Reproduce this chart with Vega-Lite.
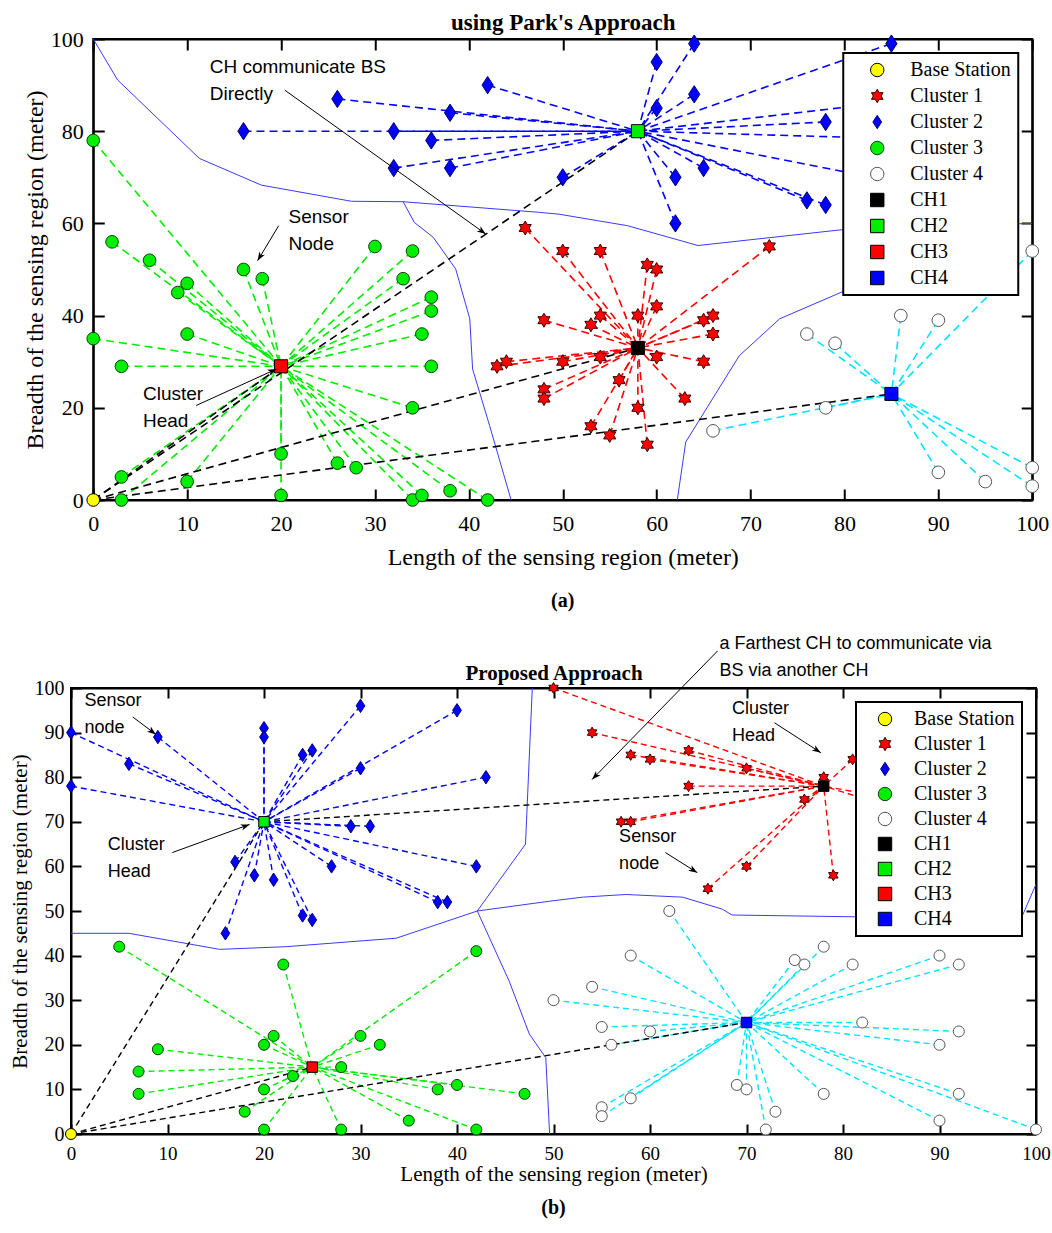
{
"$schema":"https://vega.github.io/schema/vega-lite/v6.json",
"padding":{"left":8,"top":10,"right":10,"bottom":10},
"background":"white",
"spacing":22,
"center":true,
"config":{
 "view":{"stroke":"#000","strokeWidth":2},
 "axis":{"grid":false,"domainColor":"#000","tickColor":"#000","labelColor":"#000","titleColor":"#000","labelFont":"Liberation Serif","titleFont":"Liberation Serif","titleFontWeight":"normal","labelFlush":false,"labelOverlap":false,"domainWidth":2,"tickWidth":2},
 "legend":{"orient":"top-right","offset":14,"labelFont":"Liberation Serif","labelFontSize":20,"labelColor":"#000","symbolSize":180,"symbolStrokeWidth":1,"padding":7,"symbolOffset":17,"labelOffset":23,"rowPadding":6,"strokeColor":"#000","strokeWidth":2,"fillColor":"#fff"},
 "title":{"font":"Liberation Serif","color":"#000"}
},
"resolve":{"scale":{"fill":"independent","stroke":"independent","shape":"independent","x":"independent","y":"independent"},"legend":{"fill":"independent","stroke":"independent","shape":"independent"}},
"datasets":{
 "pa":[
  {"s":"Base Station","x":0,"y":0},
  {"s":"CH1","x":58,"y":33},{"s":"CH2","x":58,"y":80},{"s":"CH3","x":20,"y":29},{"s":"CH4","x":85,"y":23},
  {"s":"Cluster 1","x":59,"y":51,"ch":"CH1"},{"s":"Cluster 1","x":60,"y":50,"ch":"CH1"},{"s":"Cluster 1","x":60,"y":42,"ch":"CH1"},{"s":"Cluster 1","x":58,"y":40,"ch":"CH1"},{"s":"Cluster 1","x":54,"y":40,"ch":"CH1"},{"s":"Cluster 1","x":53,"y":38,"ch":"CH1"},{"s":"Cluster 1","x":65,"y":39,"ch":"CH1"},{"s":"Cluster 1","x":66,"y":40,"ch":"CH1"},{"s":"Cluster 1","x":66,"y":36,"ch":"CH1"},{"s":"Cluster 1","x":60,"y":31,"ch":"CH1"},{"s":"Cluster 1","x":65,"y":30,"ch":"CH1"},{"s":"Cluster 1","x":54,"y":31,"ch":"CH1"},{"s":"Cluster 1","x":50,"y":30,"ch":"CH1"},{"s":"Cluster 1","x":56,"y":26,"ch":"CH1"},{"s":"Cluster 1","x":63,"y":22,"ch":"CH1"},{"s":"Cluster 1","x":58,"y":20,"ch":"CH1"},{"s":"Cluster 1","x":53,"y":16,"ch":"CH1"},{"s":"Cluster 1","x":55,"y":14,"ch":"CH1"},{"s":"Cluster 1","x":59,"y":12,"ch":"CH1"},{"s":"Cluster 1","x":43,"y":29,"ch":"CH1"},{"s":"Cluster 1","x":44,"y":30,"ch":"CH1"},{"s":"Cluster 1","x":48,"y":39,"ch":"CH1"},{"s":"Cluster 1","x":48,"y":24,"ch":"CH1"},{"s":"Cluster 1","x":48,"y":22,"ch":"CH1"},{"s":"Cluster 1","x":50,"y":54,"ch":"CH1"},{"s":"Cluster 1","x":54,"y":54,"ch":"CH1"},{"s":"Cluster 1","x":72,"y":55,"ch":"CH1"},{"s":"Cluster 1","x":46,"y":59,"ch":"CH1"},
  {"s":"Cluster 2","x":16,"y":80,"ch":"CH2"},{"s":"Cluster 2","x":26,"y":87,"ch":"CH2"},{"s":"Cluster 2","x":32,"y":80,"ch":"CH2"},{"s":"Cluster 2","x":36,"y":78,"ch":"CH2"},{"s":"Cluster 2","x":38,"y":84,"ch":"CH2"},{"s":"Cluster 2","x":32,"y":72,"ch":"CH2"},{"s":"Cluster 2","x":38,"y":72,"ch":"CH2"},{"s":"Cluster 2","x":42,"y":90,"ch":"CH2"},{"s":"Cluster 2","x":60,"y":95,"ch":"CH2"},{"s":"Cluster 2","x":64,"y":99,"ch":"CH2"},{"s":"Cluster 2","x":64,"y":88,"ch":"CH2"},{"s":"Cluster 2","x":60,"y":85,"ch":"CH2"},{"s":"Cluster 2","x":78,"y":82,"ch":"CH2"},{"s":"Cluster 2","x":85,"y":99,"ch":"CH2"},{"s":"Cluster 2","x":50,"y":70,"ch":"CH2"},{"s":"Cluster 2","x":62,"y":70,"ch":"CH2"},{"s":"Cluster 2","x":65,"y":72,"ch":"CH2"},{"s":"Cluster 2","x":76,"y":65,"ch":"CH2"},{"s":"Cluster 2","x":78,"y":64,"ch":"CH2"},{"s":"Cluster 2","x":62,"y":60,"ch":"CH2"},{"s":"Cluster 2","x":92,"y":88,"ch":"CH2"},{"s":"Cluster 2","x":92,"y":78,"ch":"CH2"},{"s":"Cluster 2","x":88,"y":68,"ch":"CH2"},
  {"s":"Cluster 3","x":0,"y":78,"ch":"CH3"},{"s":"Cluster 3","x":2,"y":56,"ch":"CH3"},{"s":"Cluster 3","x":6,"y":52,"ch":"CH3"},{"s":"Cluster 3","x":9,"y":45,"ch":"CH3"},{"s":"Cluster 3","x":10,"y":47,"ch":"CH3"},{"s":"Cluster 3","x":16,"y":50,"ch":"CH3"},{"s":"Cluster 3","x":18,"y":48,"ch":"CH3"},{"s":"Cluster 3","x":30,"y":55,"ch":"CH3"},{"s":"Cluster 3","x":34,"y":54,"ch":"CH3"},{"s":"Cluster 3","x":33,"y":48,"ch":"CH3"},{"s":"Cluster 3","x":36,"y":44,"ch":"CH3"},{"s":"Cluster 3","x":36,"y":41,"ch":"CH3"},{"s":"Cluster 3","x":35,"y":36,"ch":"CH3"},{"s":"Cluster 3","x":36,"y":29,"ch":"CH3"},{"s":"Cluster 3","x":34,"y":20,"ch":"CH3"},{"s":"Cluster 3","x":0,"y":35,"ch":"CH3"},{"s":"Cluster 3","x":3,"y":29,"ch":"CH3"},{"s":"Cluster 3","x":10,"y":36,"ch":"CH3"},{"s":"Cluster 3","x":20,"y":10,"ch":"CH3"},{"s":"Cluster 3","x":20,"y":1,"ch":"CH3"},{"s":"Cluster 3","x":26,"y":8,"ch":"CH3"},{"s":"Cluster 3","x":28,"y":7,"ch":"CH3"},{"s":"Cluster 3","x":34,"y":0,"ch":"CH3"},{"s":"Cluster 3","x":35,"y":1,"ch":"CH3"},{"s":"Cluster 3","x":38,"y":2,"ch":"CH3"},{"s":"Cluster 3","x":42,"y":0,"ch":"CH3"},{"s":"Cluster 3","x":3,"y":5,"ch":"CH3"},{"s":"Cluster 3","x":10,"y":4,"ch":"CH3"},{"s":"Cluster 3","x":3,"y":0,"ch":"CH3"},
  {"s":"Cluster 4","x":76,"y":36,"ch":"CH4"},{"s":"Cluster 4","x":79,"y":34,"ch":"CH4"},{"s":"Cluster 4","x":86,"y":40,"ch":"CH4"},{"s":"Cluster 4","x":90,"y":39,"ch":"CH4"},{"s":"Cluster 4","x":78,"y":20,"ch":"CH4"},{"s":"Cluster 4","x":66,"y":15,"ch":"CH4"},{"s":"Cluster 4","x":90,"y":6,"ch":"CH4"},{"s":"Cluster 4","x":95,"y":4,"ch":"CH4"},{"s":"Cluster 4","x":100,"y":7,"ch":"CH4"},{"s":"Cluster 4","x":100,"y":3,"ch":"CH4"},{"s":"Cluster 4","x":100,"y":54,"ch":"CH4"}
 ],
 "pb":[
  {"s":"Base Station","x":0,"y":0},
  {"s":"CH1","x":78,"y":78},{"s":"CH2","x":20,"y":70},{"s":"CH3","x":25,"y":15},{"s":"CH4","x":70,"y":25},
  {"s":"Cluster 1","x":50,"y":100,"ch":"CH1"},{"s":"Cluster 1","x":54,"y":90,"ch":"CH1"},{"s":"Cluster 1","x":58,"y":85,"ch":"CH1"},{"s":"Cluster 1","x":60,"y":84,"ch":"CH1"},{"s":"Cluster 1","x":64,"y":86,"ch":"CH1"},{"s":"Cluster 1","x":70,"y":82,"ch":"CH1"},{"s":"Cluster 1","x":64,"y":78,"ch":"CH1"},{"s":"Cluster 1","x":78,"y":80,"ch":"CH1"},{"s":"Cluster 1","x":81,"y":84,"ch":"CH1"},{"s":"Cluster 1","x":76,"y":75,"ch":"CH1"},{"s":"Cluster 1","x":57,"y":70,"ch":"CH1"},{"s":"Cluster 1","x":58,"y":70,"ch":"CH1"},{"s":"Cluster 1","x":70,"y":60,"ch":"CH1"},{"s":"Cluster 1","x":66,"y":55,"ch":"CH1"},{"s":"Cluster 1","x":79,"y":58,"ch":"CH1"},{"s":"Cluster 1","x":88,"y":74,"ch":"CH1"},{"s":"Cluster 1","x":90,"y":70,"ch":"CH1"},
  {"s":"Cluster 2","x":0,"y":90,"ch":"CH2"},{"s":"Cluster 2","x":9,"y":89,"ch":"CH2"},{"s":"Cluster 2","x":6,"y":83,"ch":"CH2"},{"s":"Cluster 2","x":0,"y":78,"ch":"CH2"},{"s":"Cluster 2","x":20,"y":91,"ch":"CH2"},{"s":"Cluster 2","x":20,"y":89,"ch":"CH2"},{"s":"Cluster 2","x":24,"y":85,"ch":"CH2"},{"s":"Cluster 2","x":25,"y":86,"ch":"CH2"},{"s":"Cluster 2","x":30,"y":96,"ch":"CH2"},{"s":"Cluster 2","x":40,"y":95,"ch":"CH2"},{"s":"Cluster 2","x":30,"y":82,"ch":"CH2"},{"s":"Cluster 2","x":43,"y":80,"ch":"CH2"},{"s":"Cluster 2","x":29,"y":69,"ch":"CH2"},{"s":"Cluster 2","x":31,"y":69,"ch":"CH2"},{"s":"Cluster 2","x":42,"y":60,"ch":"CH2"},{"s":"Cluster 2","x":27,"y":60,"ch":"CH2"},{"s":"Cluster 2","x":17,"y":61,"ch":"CH2"},{"s":"Cluster 2","x":19,"y":58,"ch":"CH2"},{"s":"Cluster 2","x":21,"y":57,"ch":"CH2"},{"s":"Cluster 2","x":38,"y":52,"ch":"CH2"},{"s":"Cluster 2","x":39,"y":52,"ch":"CH2"},{"s":"Cluster 2","x":24,"y":49,"ch":"CH2"},{"s":"Cluster 2","x":25,"y":48,"ch":"CH2"},{"s":"Cluster 2","x":16,"y":45,"ch":"CH2"},
  {"s":"Cluster 3","x":5,"y":42,"ch":"CH3"},{"s":"Cluster 3","x":42,"y":41,"ch":"CH3"},{"s":"Cluster 3","x":22,"y":38,"ch":"CH3"},{"s":"Cluster 3","x":21,"y":22,"ch":"CH3"},{"s":"Cluster 3","x":20,"y":20,"ch":"CH3"},{"s":"Cluster 3","x":30,"y":22,"ch":"CH3"},{"s":"Cluster 3","x":32,"y":20,"ch":"CH3"},{"s":"Cluster 3","x":9,"y":19,"ch":"CH3"},{"s":"Cluster 3","x":7,"y":14,"ch":"CH3"},{"s":"Cluster 3","x":7,"y":9,"ch":"CH3"},{"s":"Cluster 3","x":28,"y":15,"ch":"CH3"},{"s":"Cluster 3","x":23,"y":13,"ch":"CH3"},{"s":"Cluster 3","x":20,"y":10,"ch":"CH3"},{"s":"Cluster 3","x":18,"y":5,"ch":"CH3"},{"s":"Cluster 3","x":20,"y":1,"ch":"CH3"},{"s":"Cluster 3","x":28,"y":1,"ch":"CH3"},{"s":"Cluster 3","x":35,"y":3,"ch":"CH3"},{"s":"Cluster 3","x":38,"y":10,"ch":"CH3"},{"s":"Cluster 3","x":40,"y":11,"ch":"CH3"},{"s":"Cluster 3","x":47,"y":9,"ch":"CH3"},{"s":"Cluster 3","x":42,"y":1,"ch":"CH3"},
  {"s":"Cluster 4","x":62,"y":50,"ch":"CH4"},{"s":"Cluster 4","x":58,"y":40,"ch":"CH4"},{"s":"Cluster 4","x":54,"y":33,"ch":"CH4"},{"s":"Cluster 4","x":50,"y":30,"ch":"CH4"},{"s":"Cluster 4","x":55,"y":24,"ch":"CH4"},{"s":"Cluster 4","x":60,"y":23,"ch":"CH4"},{"s":"Cluster 4","x":56,"y":20,"ch":"CH4"},{"s":"Cluster 4","x":58,"y":8,"ch":"CH4"},{"s":"Cluster 4","x":55,"y":6,"ch":"CH4"},{"s":"Cluster 4","x":55,"y":4,"ch":"CH4"},{"s":"Cluster 4","x":69,"y":11,"ch":"CH4"},{"s":"Cluster 4","x":70,"y":10,"ch":"CH4"},{"s":"Cluster 4","x":73,"y":5,"ch":"CH4"},{"s":"Cluster 4","x":72,"y":1,"ch":"CH4"},{"s":"Cluster 4","x":78,"y":9,"ch":"CH4"},{"s":"Cluster 4","x":82,"y":25,"ch":"CH4"},{"s":"Cluster 4","x":75,"y":39,"ch":"CH4"},{"s":"Cluster 4","x":76,"y":38,"ch":"CH4"},{"s":"Cluster 4","x":78,"y":42,"ch":"CH4"},{"s":"Cluster 4","x":81,"y":38,"ch":"CH4"},{"s":"Cluster 4","x":90,"y":40,"ch":"CH4"},{"s":"Cluster 4","x":92,"y":38,"ch":"CH4"},{"s":"Cluster 4","x":92,"y":23,"ch":"CH4"},{"s":"Cluster 4","x":90,"y":20,"ch":"CH4"},{"s":"Cluster 4","x":92,"y":9,"ch":"CH4"},{"s":"Cluster 4","x":90,"y":3,"ch":"CH4"},{"s":"Cluster 4","x":100,"y":1,"ch":"CH4"}
 ],
 "va":[
  {"g":1,"o":1,"x":0,"y":100},{"g":1,"o":2,"x":2.6,"y":91.1},{"g":1,"o":3,"x":11.3,"y":74.1},{"g":1,"o":4,"x":17.9,"y":68.3},{"g":1,"o":5,"x":27.5,"y":64.8},{"g":1,"o":6,"x":33,"y":64.7},{"g":1,"o":7,"x":47.5,"y":62.4},{"g":1,"o":8,"x":49.6,"y":62},{"g":1,"o":9,"x":56.9,"y":59.5},{"g":1,"o":10,"x":64.4,"y":55.2},{"g":1,"o":11,"x":80.5,"y":58.8},{"g":1,"o":12,"x":100,"y":60},
  {"g":2,"o":1,"x":33,"y":64.7},{"g":2,"o":2,"x":34.2,"y":60.2},{"g":2,"o":3,"x":36.2,"y":57},{"g":2,"o":4,"x":38.6,"y":50.1},{"g":2,"o":5,"x":40.1,"y":39.3},{"g":2,"o":6,"x":40.4,"y":28.4},{"g":2,"o":7,"x":42.2,"y":16.2},{"g":2,"o":8,"x":44.5,"y":0},
  {"g":3,"o":1,"x":62.2,"y":0},{"g":3,"o":2,"x":63.1,"y":12.6},{"g":3,"o":3,"x":68.8,"y":31.3},{"g":3,"o":4,"x":73.1,"y":39.3},{"g":3,"o":5,"x":80.5,"y":45.8},{"g":3,"o":6,"x":88,"y":59.3}
 ],
 "vb":[
  {"g":1,"o":1,"x":0,"y":45},{"g":1,"o":2,"x":6,"y":45},{"g":1,"o":3,"x":15.4,"y":41.4},{"g":1,"o":4,"x":22.3,"y":42},{"g":1,"o":5,"x":33.7,"y":43.9},{"g":1,"o":6,"x":42.1,"y":50},{"g":1,"o":7,"x":49.6,"y":52.2},{"g":1,"o":8,"x":53,"y":53.1},{"g":1,"o":9,"x":57.5,"y":53.7},{"g":1,"o":10,"x":63.4,"y":53.1},{"g":1,"o":11,"x":67.5,"y":50.4},{"g":1,"o":12,"x":68.5,"y":49.1},{"g":1,"o":13,"x":81.3,"y":48.7},{"g":1,"o":14,"x":98.5,"y":48.5},{"g":1,"o":15,"x":100,"y":56},
  {"g":2,"o":1,"x":47.8,"y":100},{"g":2,"o":2,"x":47.1,"y":65},{"g":2,"o":3,"x":42.1,"y":50},{"g":2,"o":4,"x":45.4,"y":34.3},{"g":2,"o":5,"x":47.5,"y":22.4},{"g":2,"o":6,"x":49.2,"y":17.1},{"g":2,"o":7,"x":49.6,"y":0}
 ],
 "la":[{"from":"Base Station","to":"CH1"},{"from":"Base Station","to":"CH2"},{"from":"Base Station","to":"CH3"},{"from":"Base Station","to":"CH4"}],
 "lb":[{"from":"Base Station","to":"CH2"},{"from":"Base Station","to":"CH3"},{"from":"Base Station","to":"CH4"},{"from":"CH2","to":"CH1"}],
 "arra":[{"id":"a1","x":20.4,"y":88.9,"x2":41.8,"y2":57.7},{"id":"a2","x":19.75,"y":59.5,"x2":17.5,"y2":51.9},{"id":"a3","x":10.96,"y":20.5,"x2":19.5,"y2":28.4}],
 "arrb":[{"id":"b1","x":6.4,"y":93.5,"x2":8.8,"y2":89.6},{"id":"b2","x":10.5,"y":63.1,"x2":18.5,"y2":69.4},{"id":"b3","x":72.9,"y":92.2,"x2":77.7,"y2":85.5},{"id":"b4","x":61.6,"y":63.1,"x2":64.9,"y2":58.6},{"id":"b5","x":67.0,"y":108.3,"x2":54.0,"y2":79.5}],
 "txta":[{"t":"CH communicate BS\nDirectly","x":12.4,"y":93.9},{"t":"Sensor\nNode","x":20.8,"y":61.4},{"t":"Cluster\nHead","x":5.3,"y":23}],
 "txtb":[{"t":"Sensor\nnode","x":1.4,"y":97.1},{"t":"Cluster\nHead","x":3.8,"y":64.8},{"t":"Cluster\nHead","x":68.5,"y":95.2},{"t":"Sensor\nnode","x":56.8,"y":66.6},{"t":"a Farthest CH to communicate via\nBS via another CH","x":67.2,"y":109.8}]
},
"vconcat":[
 {
  "width":939,"height":461,
  "title":{"text":"(a)","orient":"bottom","fontSize":20,"fontWeight":"bold","offset":22},
  "resolve":{"axis":{"x":"independent","y":"independent"}},
  "encoding":{
   "x":{"field":"x","type":"quantitative","scale":{"domain":[0,100],"nice":false},"axis":null},
   "y":{"field":"y","type":"quantitative","scale":{"domain":[0,100],"nice":false},"axis":null}
  },
  "layer":[
   {"data":{"name":"va"},"mark":{"type":"line","color":"#3a3aff","strokeWidth":1},
    "encoding":{
     "x":{"field":"x","type":"quantitative","scale":{"domain":[0,100],"nice":false},"axis":{"orient":"bottom","values":[0,10,20,30,40,50,60,70,80,90,100],"title":"Length of the sensing region (meter)","titleFontSize":24,"labelFontSize":22,"tickSize":-11,"labelPadding":24,"titlePadding":11}},
     "y":{"field":"y","type":"quantitative","scale":{"domain":[0,100],"nice":false},"axis":{"orient":"left","values":[0,20,40,60,80,100],"title":"Breadth of the sensing region (meter)","titleFontSize":24,"labelFontSize":22,"tickSize":-11,"labelPadding":21,"titlePadding":3}},
     "detail":{"field":"g"},"order":{"field":"o"}}},
   {"data":{"name":"pa"},"transform":[{"filter":"datum.s === 'Cluster 1'"},{"lookup":"ch","from":{"data":{"name":"pa"},"key":"s","fields":["x","y"]},"as":["cx","cy"]}],
    "mark":{"type":"rule","color":"#ff0000","strokeWidth":1.6,"strokeDash":[8,5]},"encoding":{"x2":{"field":"cx"},"y2":{"field":"cy"}}},
   {"data":{"name":"pa"},"transform":[{"filter":"datum.s === 'Cluster 2'"},{"lookup":"ch","from":{"data":{"name":"pa"},"key":"s","fields":["x","y"]},"as":["cx","cy"]}],
    "mark":{"type":"rule","color":"#0000ff","strokeWidth":1.6,"strokeDash":[8,5]},"encoding":{"x2":{"field":"cx"},"y2":{"field":"cy"}}},
   {"data":{"name":"pa"},"transform":[{"filter":"datum.s === 'Cluster 3'"},{"lookup":"ch","from":{"data":{"name":"pa"},"key":"s","fields":["x","y"]},"as":["cx","cy"]}],
    "mark":{"type":"rule","color":"#00ee00","strokeWidth":1.6,"strokeDash":[8,5]},"encoding":{"x2":{"field":"cx"},"y2":{"field":"cy"}}},
   {"data":{"name":"pa"},"transform":[{"filter":"datum.s === 'Cluster 4'"},{"lookup":"ch","from":{"data":{"name":"pa"},"key":"s","fields":["x","y"]},"as":["cx","cy"]}],
    "mark":{"type":"rule","color":"#00e5ff","strokeWidth":1.6,"strokeDash":[8,5]},"encoding":{"x2":{"field":"cx"},"y2":{"field":"cy"}}},
   {"data":{"name":"la"},"transform":[{"lookup":"from","from":{"data":{"name":"pa"},"key":"s","fields":["x","y"]},"as":["x","y"]},{"lookup":"to","from":{"data":{"name":"pa"},"key":"s","fields":["x","y"]},"as":["x2","y2"]}],
    "mark":{"type":"rule","color":"#000000","strokeWidth":1.6,"strokeDash":[8,5]},
    "encoding":{
     "x":{"field":"x","type":"quantitative","scale":{"domain":[0,100],"nice":false},"axis":{"orient":"top","values":[0,10,20,30,40,50,60,70,80,90,100],"labels":false,"title":"using Park's Approach","titleFontSize":23,"titleFontWeight":"bold","tickSize":-11,"titlePadding":4}},
     "y":{"field":"y","type":"quantitative","scale":{"domain":[0,100],"nice":false},"axis":{"orient":"right","values":[0,20,40,60,80,100],"labels":false,"title":null,"tickSize":-11}},
     "x2":{"field":"x2"},"y2":{"field":"y2"}}},
   {"data":{"name":"pa"},"transform":[{"filter":{"field":"s","oneOf":["Base Station","Cluster 3","Cluster 4"]}}],
    "mark":{"type":"point","filled":true,"size":160,"strokeWidth":1,"opacity":1},
    "encoding":{
     "fill":{"field":"s","type":"nominal","legend":{"title":null},"scale":{"domain":["Base Station","Cluster 1","Cluster 2","Cluster 3","Cluster 4","CH1","CH2","CH3","CH4"],"range":["#ffff00","#ff0000","#0000ff","#00ee00","#ffffff","#000000","#00ee00","#ff0000","#0000ff"]}},
     "stroke":{"field":"s","type":"nominal","legend":{"title":null},"scale":{"domain":["Base Station","Cluster 1","Cluster 2","Cluster 3","Cluster 4","CH1","CH2","CH3","CH4"],"range":["#000000","#3a0000","#000070","#104010","#555555","#000000","#000000","#000000","#000000"]}},
     "shape":{"field":"s","type":"nominal","legend":{"title":null},"scale":{"domain":["Base Station","Cluster 1","Cluster 2","Cluster 3","Cluster 4","CH1","CH2","CH3","CH4"],"range":["circle","M0,-1L0.289,-0.5L0.866,-0.5L0.577,0L0.866,0.5L0.289,0.5L0,1L-0.289,0.5L-0.866,0.5L-0.577,0L-0.866,-0.5L-0.289,-0.5Z","M0,-1L0.65,0L0,1L-0.65,0Z","circle","circle","square","square","square","square"]}}}},
   {"data":{"name":"pa"},"transform":[{"filter":{"field":"s","oneOf":["Cluster 1"]}}],
    "mark":{"type":"point","filled":true,"size":196,"strokeWidth":1,"opacity":1},
    "encoding":{
     "fill":{"field":"s","type":"nominal","legend":{"title":null},"scale":{"domain":["Base Station","Cluster 1","Cluster 2","Cluster 3","Cluster 4","CH1","CH2","CH3","CH4"],"range":["#ffff00","#ff0000","#0000ff","#00ee00","#ffffff","#000000","#00ee00","#ff0000","#0000ff"]}},
     "stroke":{"field":"s","type":"nominal","legend":{"title":null},"scale":{"domain":["Base Station","Cluster 1","Cluster 2","Cluster 3","Cluster 4","CH1","CH2","CH3","CH4"],"range":["#000000","#3a0000","#000070","#104010","#555555","#000000","#000000","#000000","#000000"]}},
     "shape":{"field":"s","type":"nominal","legend":{"title":null},"scale":{"domain":["Base Station","Cluster 1","Cluster 2","Cluster 3","Cluster 4","CH1","CH2","CH3","CH4"],"range":["circle","M0,-1L0.289,-0.5L0.866,-0.5L0.577,0L0.866,0.5L0.289,0.5L0,1L-0.289,0.5L-0.866,0.5L-0.577,0L-0.866,-0.5L-0.289,-0.5Z","M0,-1L0.65,0L0,1L-0.65,0Z","circle","circle","square","square","square","square"]}}}},
   {"data":{"name":"pa"},"transform":[{"filter":{"field":"s","oneOf":["Cluster 2"]}}],
    "mark":{"type":"point","filled":true,"size":300,"strokeWidth":1,"opacity":1},
    "encoding":{
     "fill":{"field":"s","type":"nominal","legend":{"title":null},"scale":{"domain":["Base Station","Cluster 1","Cluster 2","Cluster 3","Cluster 4","CH1","CH2","CH3","CH4"],"range":["#ffff00","#ff0000","#0000ff","#00ee00","#ffffff","#000000","#00ee00","#ff0000","#0000ff"]}},
     "stroke":{"field":"s","type":"nominal","legend":{"title":null},"scale":{"domain":["Base Station","Cluster 1","Cluster 2","Cluster 3","Cluster 4","CH1","CH2","CH3","CH4"],"range":["#000000","#3a0000","#000070","#104010","#555555","#000000","#000000","#000000","#000000"]}},
     "shape":{"field":"s","type":"nominal","legend":{"title":null},"scale":{"domain":["Base Station","Cluster 1","Cluster 2","Cluster 3","Cluster 4","CH1","CH2","CH3","CH4"],"range":["circle","M0,-1L0.289,-0.5L0.866,-0.5L0.577,0L0.866,0.5L0.289,0.5L0,1L-0.289,0.5L-0.866,0.5L-0.577,0L-0.866,-0.5L-0.289,-0.5Z","M0,-1L0.65,0L0,1L-0.65,0Z","circle","circle","square","square","square","square"]}}}},
   {"data":{"name":"pa"},"transform":[{"filter":{"field":"s","oneOf":["CH1","CH2","CH3","CH4"]}}],
    "mark":{"type":"point","filled":true,"size":170,"strokeWidth":1,"opacity":1},
    "encoding":{
     "fill":{"field":"s","type":"nominal","legend":{"title":null},"scale":{"domain":["Base Station","Cluster 1","Cluster 2","Cluster 3","Cluster 4","CH1","CH2","CH3","CH4"],"range":["#ffff00","#ff0000","#0000ff","#00ee00","#ffffff","#000000","#00ee00","#ff0000","#0000ff"]}},
     "stroke":{"field":"s","type":"nominal","legend":{"title":null},"scale":{"domain":["Base Station","Cluster 1","Cluster 2","Cluster 3","Cluster 4","CH1","CH2","CH3","CH4"],"range":["#000000","#3a0000","#000070","#104010","#555555","#000000","#000000","#000000","#000000"]}},
     "shape":{"field":"s","type":"nominal","legend":{"title":null},"scale":{"domain":["Base Station","Cluster 1","Cluster 2","Cluster 3","Cluster 4","CH1","CH2","CH3","CH4"],"range":["circle","M0,-1L0.289,-0.5L0.866,-0.5L0.577,0L0.866,0.5L0.289,0.5L0,1L-0.289,0.5L-0.866,0.5L-0.577,0L-0.866,-0.5L-0.289,-0.5Z","M0,-1L0.65,0L0,1L-0.65,0Z","circle","circle","square","square","square","square"]}}}},
   {"data":{"name":"arra"},"mark":{"type":"rule","color":"#000000","strokeWidth":1},"encoding":{"x2":{"field":"x2"},"y2":{"field":"y2"}}},
   {"data":{"name":"arra"},"transform":[{"filter":"datum.id === 'a1'"}],"mark":{"type":"point","shape":"M0,0L-2.2,-0.8L-1.6,0L-2.2,0.8Z","filled":true,"color":"#000","opacity":1,"size":64,"angle":35.5},
    "encoding":{"x":{"field":"x2","type":"quantitative","scale":{"domain":[0,100],"nice":false},"axis":null},"y":{"field":"y2","type":"quantitative","scale":{"domain":[0,100],"nice":false},"axis":null}}},
   {"data":{"name":"arra"},"transform":[{"filter":"datum.id === 'a2'"}],"mark":{"type":"point","shape":"M0,0L-2.2,-0.8L-1.6,0L-2.2,0.8Z","filled":true,"color":"#000","opacity":1,"size":64,"angle":121},
    "encoding":{"x":{"field":"x2","type":"quantitative","scale":{"domain":[0,100],"nice":false},"axis":null},"y":{"field":"y2","type":"quantitative","scale":{"domain":[0,100],"nice":false},"axis":null}}},
   {"data":{"name":"arra"},"transform":[{"filter":"datum.id === 'a3'"}],"mark":{"type":"point","shape":"M0,0L-2.2,-0.8L-1.6,0L-2.2,0.8Z","filled":true,"color":"#000","opacity":1,"size":64,"angle":-24.6},
    "encoding":{"x":{"field":"x2","type":"quantitative","scale":{"domain":[0,100],"nice":false},"axis":null},"y":{"field":"y2","type":"quantitative","scale":{"domain":[0,100],"nice":false},"axis":null}}},
   {"data":{"name":"txta"},"mark":{"type":"text","align":"left","baseline":"middle","font":"Liberation Sans","fontSize":19,"lineBreak":"\n","lineHeight":27,"color":"#000"},"encoding":{"text":{"field":"t"}}}
  ]
 },
 {
  "width":965,"height":446,
  "title":{"text":"(b)","orient":"bottom","fontSize":20,"fontWeight":"bold","offset":14},
  "resolve":{"axis":{"x":"independent","y":"independent"}},
  "encoding":{
   "x":{"field":"x","type":"quantitative","scale":{"domain":[0,100],"nice":false},"axis":null},
   "y":{"field":"y","type":"quantitative","scale":{"domain":[0,100],"nice":false},"axis":null}
  },
  "layer":[
   {"data":{"name":"vb"},"mark":{"type":"line","color":"#3a3aff","strokeWidth":1},
    "encoding":{
     "x":{"field":"x","type":"quantitative","scale":{"domain":[0,100],"nice":false},"axis":{"orient":"bottom","values":[0,10,20,30,40,50,60,70,80,90,100],"title":"Length of the sensing region (meter)","titleFontSize":21,"labelFontSize":19,"tickSize":-10,"labelPadding":20,"titlePadding":0}},
     "y":{"field":"y","type":"quantitative","scale":{"domain":[0,100],"nice":false},"axis":{"orient":"left","values":[0,10,20,30,40,50,60,70,80,90,100],"title":"Breadth of the sensing region (meter)","titleFontSize":21,"labelFontSize":20,"tickSize":-10,"labelPadding":17,"titlePadding":4}},
     "detail":{"field":"g"},"order":{"field":"o"}}},
   {"data":{"name":"pb"},"transform":[{"filter":"datum.s === 'Cluster 1'"},{"lookup":"ch","from":{"data":{"name":"pb"},"key":"s","fields":["x","y"]},"as":["cx","cy"]}],
    "mark":{"type":"rule","color":"#ff0000","strokeWidth":1.4,"strokeDash":[6,4]},"encoding":{"x2":{"field":"cx"},"y2":{"field":"cy"}}},
   {"data":{"name":"pb"},"transform":[{"filter":"datum.s === 'Cluster 2'"},{"lookup":"ch","from":{"data":{"name":"pb"},"key":"s","fields":["x","y"]},"as":["cx","cy"]}],
    "mark":{"type":"rule","color":"#0000ff","strokeWidth":1.4,"strokeDash":[6,4]},"encoding":{"x2":{"field":"cx"},"y2":{"field":"cy"}}},
   {"data":{"name":"pb"},"transform":[{"filter":"datum.s === 'Cluster 3'"},{"lookup":"ch","from":{"data":{"name":"pb"},"key":"s","fields":["x","y"]},"as":["cx","cy"]}],
    "mark":{"type":"rule","color":"#00ee00","strokeWidth":1.4,"strokeDash":[6,4]},"encoding":{"x2":{"field":"cx"},"y2":{"field":"cy"}}},
   {"data":{"name":"pb"},"transform":[{"filter":"datum.s === 'Cluster 4'"},{"lookup":"ch","from":{"data":{"name":"pb"},"key":"s","fields":["x","y"]},"as":["cx","cy"]}],
    "mark":{"type":"rule","color":"#00e5ff","strokeWidth":1.4,"strokeDash":[6,4]},"encoding":{"x2":{"field":"cx"},"y2":{"field":"cy"}}},
   {"data":{"name":"lb"},"transform":[{"lookup":"from","from":{"data":{"name":"pb"},"key":"s","fields":["x","y"]},"as":["x","y"]},{"lookup":"to","from":{"data":{"name":"pb"},"key":"s","fields":["x","y"]},"as":["x2","y2"]}],
    "mark":{"type":"rule","color":"#000000","strokeWidth":1.4,"strokeDash":[6,4]},
    "encoding":{
     "x":{"field":"x","type":"quantitative","scale":{"domain":[0,100],"nice":false},"axis":{"orient":"top","values":[0,10,20,30,40,50,60,70,80,90,100],"labels":false,"title":"Proposed Approach","titleFontSize":21,"titleFontWeight":"bold","tickSize":-10,"titlePadding":4}},
     "y":{"field":"y","type":"quantitative","scale":{"domain":[0,100],"nice":false},"axis":{"orient":"right","values":[0,10,20,30,40,50,60,70,80,90,100],"labels":false,"title":" ","titleColor":"#ffffff","titleFontSize":10,"titlePadding":24,"tickSize":-10}},
     "x2":{"field":"x2"},"y2":{"field":"y2"}}},
   {"data":{"name":"pb"},"transform":[{"filter":{"field":"s","oneOf":["Base Station","Cluster 3","Cluster 4"]}}],
    "mark":{"type":"point","filled":true,"size":121,"strokeWidth":1,"opacity":1},
    "encoding":{
     "fill":{"field":"s","type":"nominal","legend":{"title":null,"symbolOffset":12,"labelOffset":19,"rowPadding":5},"scale":{"domain":["Base Station","Cluster 1","Cluster 2","Cluster 3","Cluster 4","CH1","CH2","CH3","CH4"],"range":["#ffff00","#ff0000","#0000ff","#00ee00","#ffffff","#000000","#00ee00","#ff0000","#0000ff"]}},
     "stroke":{"field":"s","type":"nominal","legend":{"title":null,"symbolOffset":12,"labelOffset":19,"rowPadding":5},"scale":{"domain":["Base Station","Cluster 1","Cluster 2","Cluster 3","Cluster 4","CH1","CH2","CH3","CH4"],"range":["#000000","#3a0000","#000070","#104010","#555555","#000000","#000000","#000000","#000000"]}},
     "shape":{"field":"s","type":"nominal","legend":{"title":null,"symbolOffset":12,"labelOffset":19,"rowPadding":5},"scale":{"domain":["Base Station","Cluster 1","Cluster 2","Cluster 3","Cluster 4","CH1","CH2","CH3","CH4"],"range":["circle","M0,-1L0.289,-0.5L0.866,-0.5L0.577,0L0.866,0.5L0.289,0.5L0,1L-0.289,0.5L-0.866,0.5L-0.577,0L-0.866,-0.5L-0.289,-0.5Z","M0,-1L0.65,0L0,1L-0.65,0Z","circle","circle","square","square","square","square"]}}}},
   {"data":{"name":"pb"},"transform":[{"filter":{"field":"s","oneOf":["Cluster 1"]}}],
    "mark":{"type":"point","filled":true,"size":120,"strokeWidth":1,"opacity":1},
    "encoding":{
     "fill":{"field":"s","type":"nominal","legend":{"title":null,"symbolOffset":12,"labelOffset":19,"rowPadding":5},"scale":{"domain":["Base Station","Cluster 1","Cluster 2","Cluster 3","Cluster 4","CH1","CH2","CH3","CH4"],"range":["#ffff00","#ff0000","#0000ff","#00ee00","#ffffff","#000000","#00ee00","#ff0000","#0000ff"]}},
     "stroke":{"field":"s","type":"nominal","legend":{"title":null,"symbolOffset":12,"labelOffset":19,"rowPadding":5},"scale":{"domain":["Base Station","Cluster 1","Cluster 2","Cluster 3","Cluster 4","CH1","CH2","CH3","CH4"],"range":["#000000","#3a0000","#000070","#104010","#555555","#000000","#000000","#000000","#000000"]}},
     "shape":{"field":"s","type":"nominal","legend":{"title":null,"symbolOffset":12,"labelOffset":19,"rowPadding":5},"scale":{"domain":["Base Station","Cluster 1","Cluster 2","Cluster 3","Cluster 4","CH1","CH2","CH3","CH4"],"range":["circle","M0,-1L0.289,-0.5L0.866,-0.5L0.577,0L0.866,0.5L0.289,0.5L0,1L-0.289,0.5L-0.866,0.5L-0.577,0L-0.866,-0.5L-0.289,-0.5Z","M0,-1L0.65,0L0,1L-0.65,0Z","circle","circle","square","square","square","square"]}}}},
   {"data":{"name":"pb"},"transform":[{"filter":{"field":"s","oneOf":["Cluster 2"]}}],
    "mark":{"type":"point","filled":true,"size":180,"strokeWidth":1,"opacity":1},
    "encoding":{
     "fill":{"field":"s","type":"nominal","legend":{"title":null,"symbolOffset":12,"labelOffset":19,"rowPadding":5},"scale":{"domain":["Base Station","Cluster 1","Cluster 2","Cluster 3","Cluster 4","CH1","CH2","CH3","CH4"],"range":["#ffff00","#ff0000","#0000ff","#00ee00","#ffffff","#000000","#00ee00","#ff0000","#0000ff"]}},
     "stroke":{"field":"s","type":"nominal","legend":{"title":null,"symbolOffset":12,"labelOffset":19,"rowPadding":5},"scale":{"domain":["Base Station","Cluster 1","Cluster 2","Cluster 3","Cluster 4","CH1","CH2","CH3","CH4"],"range":["#000000","#3a0000","#000070","#104010","#555555","#000000","#000000","#000000","#000000"]}},
     "shape":{"field":"s","type":"nominal","legend":{"title":null,"symbolOffset":12,"labelOffset":19,"rowPadding":5},"scale":{"domain":["Base Station","Cluster 1","Cluster 2","Cluster 3","Cluster 4","CH1","CH2","CH3","CH4"],"range":["circle","M0,-1L0.289,-0.5L0.866,-0.5L0.577,0L0.866,0.5L0.289,0.5L0,1L-0.289,0.5L-0.866,0.5L-0.577,0L-0.866,-0.5L-0.289,-0.5Z","M0,-1L0.65,0L0,1L-0.65,0Z","circle","circle","square","square","square","square"]}}}},
   {"data":{"name":"pb"},"transform":[{"filter":{"field":"s","oneOf":["CH1","CH2","CH3","CH4"]}}],
    "mark":{"type":"point","filled":true,"size":110,"strokeWidth":1,"opacity":1},
    "encoding":{
     "fill":{"field":"s","type":"nominal","legend":{"title":null,"symbolOffset":12,"labelOffset":19,"rowPadding":5},"scale":{"domain":["Base Station","Cluster 1","Cluster 2","Cluster 3","Cluster 4","CH1","CH2","CH3","CH4"],"range":["#ffff00","#ff0000","#0000ff","#00ee00","#ffffff","#000000","#00ee00","#ff0000","#0000ff"]}},
     "stroke":{"field":"s","type":"nominal","legend":{"title":null,"symbolOffset":12,"labelOffset":19,"rowPadding":5},"scale":{"domain":["Base Station","Cluster 1","Cluster 2","Cluster 3","Cluster 4","CH1","CH2","CH3","CH4"],"range":["#000000","#3a0000","#000070","#104010","#555555","#000000","#000000","#000000","#000000"]}},
     "shape":{"field":"s","type":"nominal","legend":{"title":null,"symbolOffset":12,"labelOffset":19,"rowPadding":5},"scale":{"domain":["Base Station","Cluster 1","Cluster 2","Cluster 3","Cluster 4","CH1","CH2","CH3","CH4"],"range":["circle","M0,-1L0.289,-0.5L0.866,-0.5L0.577,0L0.866,0.5L0.289,0.5L0,1L-0.289,0.5L-0.866,0.5L-0.577,0L-0.866,-0.5L-0.289,-0.5Z","M0,-1L0.65,0L0,1L-0.65,0Z","circle","circle","square","square","square","square"]}}}},
   {"data":{"name":"arrb"},"mark":{"type":"rule","color":"#000000","strokeWidth":1},"encoding":{"x2":{"field":"x2"},"y2":{"field":"y2"}}},
   {"data":{"name":"arrb"},"transform":[{"filter":"datum.id === 'b1'"}],"mark":{"type":"point","shape":"M0,0L-2.2,-0.8L-1.6,0L-2.2,0.8Z","filled":true,"color":"#000","opacity":1,"size":64,"angle":36.5},
    "encoding":{"x":{"field":"x2","type":"quantitative","scale":{"domain":[0,100],"nice":false},"axis":null},"y":{"field":"y2","type":"quantitative","scale":{"domain":[0,100],"nice":false},"axis":null}}},
   {"data":{"name":"arrb"},"transform":[{"filter":"datum.id === 'b2'"}],"mark":{"type":"point","shape":"M0,0L-2.2,-0.8L-1.6,0L-2.2,0.8Z","filled":true,"color":"#000","opacity":1,"size":64,"angle":-20.3},
    "encoding":{"x":{"field":"x2","type":"quantitative","scale":{"domain":[0,100],"nice":false},"axis":null},"y":{"field":"y2","type":"quantitative","scale":{"domain":[0,100],"nice":false},"axis":null}}},
   {"data":{"name":"arrb"},"transform":[{"filter":"datum.id === 'b3'"}],"mark":{"type":"point","shape":"M0,0L-2.2,-0.8L-1.6,0L-2.2,0.8Z","filled":true,"color":"#000","opacity":1,"size":64,"angle":32.7},
    "encoding":{"x":{"field":"x2","type":"quantitative","scale":{"domain":[0,100],"nice":false},"axis":null},"y":{"field":"y2","type":"quantitative","scale":{"domain":[0,100],"nice":false},"axis":null}}},
   {"data":{"name":"arrb"},"transform":[{"filter":"datum.id === 'b4'"}],"mark":{"type":"point","shape":"M0,0L-2.2,-0.8L-1.6,0L-2.2,0.8Z","filled":true,"color":"#000","opacity":1,"size":64,"angle":32.3},
    "encoding":{"x":{"field":"x2","type":"quantitative","scale":{"domain":[0,100],"nice":false},"axis":null},"y":{"field":"y2","type":"quantitative","scale":{"domain":[0,100],"nice":false},"axis":null}}},
   {"data":{"name":"arrb"},"transform":[{"filter":"datum.id === 'b5'"}],"mark":{"type":"point","shape":"M0,0L-2.2,-0.8L-1.6,0L-2.2,0.8Z","filled":true,"color":"#000","opacity":1,"size":64,"angle":134.3},
    "encoding":{"x":{"field":"x2","type":"quantitative","scale":{"domain":[0,100],"nice":false},"axis":null},"y":{"field":"y2","type":"quantitative","scale":{"domain":[0,100],"nice":false},"axis":null}}},
   {"data":{"name":"txtb"},"mark":{"type":"text","align":"left","baseline":"middle","font":"Liberation Sans","fontSize":18,"lineBreak":"\n","lineHeight":27,"color":"#000"},"encoding":{"text":{"field":"t"}}}
  ]
 }
]
}
